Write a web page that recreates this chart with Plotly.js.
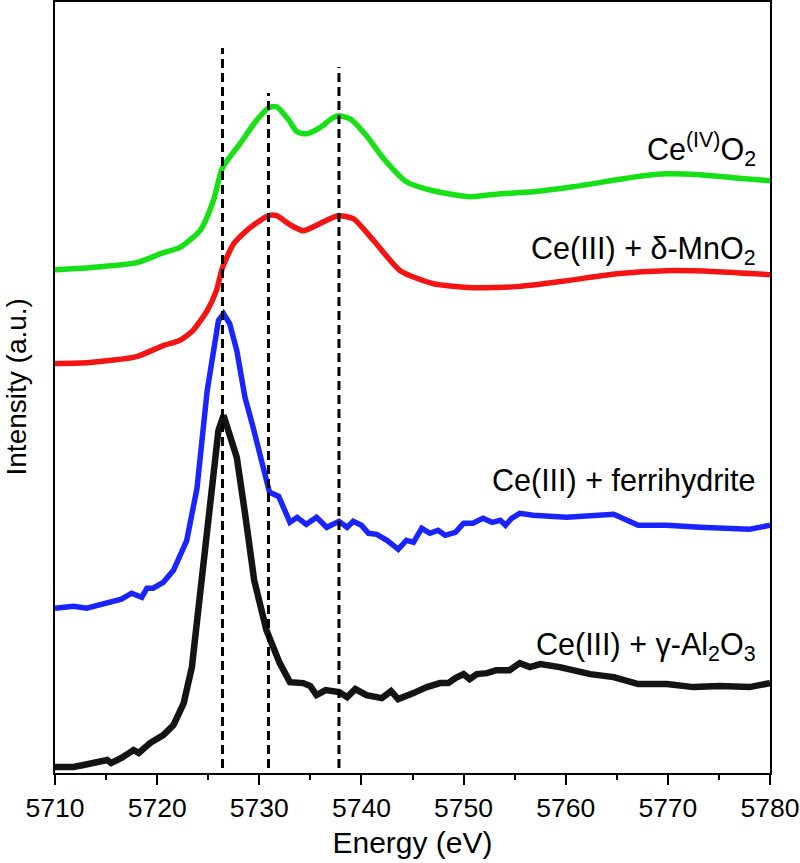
<!DOCTYPE html>
<html>
<head>
<meta charset="utf-8">
<script src="https://cdn.plot.ly/plotly-3.0.1.min.js"></script>
<style>
  html, body { margin: 0; padding: 0; background: #fff; }
  #chart { width: 800px; height: 863px; }
</style>
</head>
<body>
<div id="chart"></div>
<script>
// Ce L3-edge XANES spectra, stacked (arbitrary units)

const energyCeO2 = [5710, 5713.4, 5718, 5720.6, 5722.2, 5724.2, 5725.5, 5726.4, 5728.1, 5729.7, 5730.9, 5731.7, 5732.8, 5733.7, 5734.6, 5735.9, 5737.2, 5737.8, 5738.9, 5740.5, 5742.1, 5744.4, 5747.0, 5750.6, 5753.6, 5756.8, 5760.7, 5765.0, 5767.6, 5769.9, 5773.1, 5776.4, 5780];
const intensityCeO2 = [5.04, 5.06, 5.11, 5.21, 5.26, 5.43, 5.73, 6.06, 6.30, 6.53, 6.66, 6.67, 6.55, 6.42, 6.40, 6.46, 6.56, 6.58, 6.55, 6.38, 6.16, 5.92, 5.83, 5.77, 5.80, 5.82, 5.87, 5.94, 5.98, 6.00, 5.99, 5.96, 5.93];

const energyMnO2 = [5710, 5713.4, 5718, 5720.6, 5722.2, 5723.5, 5724.9, 5725.8, 5726.4, 5727.5, 5729.1, 5730.9, 5731.7, 5733.0, 5734.3, 5735.9, 5737.7, 5739.2, 5741.2, 5743.8, 5747.0, 5750.9, 5755.2, 5760.1, 5765.0, 5769.9, 5774.8, 5780];
const intensityMnO2 = [4.10, 4.11, 4.17, 4.28, 4.33, 4.43, 4.63, 4.83, 5.06, 5.30, 5.46, 5.58, 5.58, 5.49, 5.43, 5.50, 5.58, 5.55, 5.33, 5.03, 4.90, 4.86, 4.87, 4.93, 5.00, 5.03, 5.02, 4.99];

const energyFerri = [5710, 5711.8, 5713.1, 5715.1, 5716.5, 5717.5, 5718.5, 5719.0, 5719.6, 5720.6, 5721.6, 5722.9, 5723.9, 5724.9, 5725.5, 5726.0, 5726.5, 5727.1, 5727.8, 5728.6, 5729.4, 5730.2, 5731.0, 5731.9, 5733.0, 5733.7, 5734.6, 5735.6, 5736.6, 5737.8, 5738.6, 5739.2, 5740.0, 5740.7, 5741.5, 5742.5, 5743.6, 5744.4, 5745.1, 5745.9, 5746.7, 5747.5, 5748.2, 5749.2, 5750.0, 5750.9, 5751.9, 5752.8, 5753.6, 5754.1, 5754.7, 5755.5, 5756.8, 5760.1, 5764.7, 5767.1, 5769.9, 5773.1, 5778.0, 5780];
const intensityFerri = [1.65, 1.67, 1.65, 1.71, 1.74, 1.80, 1.76, 1.85, 1.85, 1.91, 2.03, 2.33, 2.85, 3.83, 4.26, 4.53, 4.60, 4.50, 4.23, 3.76, 3.46, 3.16, 2.81, 2.77, 2.51, 2.56, 2.49, 2.56, 2.46, 2.52, 2.46, 2.52, 2.48, 2.40, 2.39, 2.33, 2.24, 2.33, 2.31, 2.45, 2.40, 2.43, 2.38, 2.41, 2.50, 2.50, 2.55, 2.51, 2.53, 2.48, 2.55, 2.60, 2.58, 2.56, 2.59, 2.48, 2.48, 2.46, 2.44, 2.48];

const energyAl2O3 = [5710, 5711.8, 5712.8, 5713.7, 5714.4, 5715.1, 5715.5, 5716.5, 5717.7, 5718.2, 5719.3, 5720.6, 5721.6, 5722.6, 5723.4, 5724.0, 5724.6, 5725.2, 5726.0, 5726.5, 5727.1, 5727.8, 5728.6, 5729.5, 5730.7, 5732.0, 5733.0, 5734.3, 5735.0, 5735.6, 5736.5, 5737.8, 5738.6, 5739.4, 5740.5, 5741.3, 5742.0, 5742.9, 5743.6, 5745.1, 5746.4, 5747.7, 5748.5, 5749.2, 5750.0, 5750.6, 5751.3, 5752.3, 5753.2, 5754.5, 5755.5, 5756.5, 5757.5, 5759.4, 5762.4, 5764.7, 5767.1, 5769.9, 5772.5, 5775.1, 5778.0, 5780];
const intensityAl2O3 = [0.06, 0.06, 0.08, 0.10, 0.11, 0.13, 0.10, 0.15, 0.23, 0.20, 0.30, 0.38, 0.48, 0.70, 1.06, 1.63, 2.15, 2.76, 3.43, 3.58, 3.40, 3.16, 2.60, 1.93, 1.43, 1.10, 0.91, 0.90, 0.87, 0.78, 0.83, 0.81, 0.76, 0.84, 0.78, 0.76, 0.75, 0.82, 0.74, 0.80, 0.86, 0.90, 0.90, 0.95, 0.99, 0.94, 0.99, 1.00, 1.03, 1.03, 1.10, 1.06, 1.09, 1.06, 0.99, 0.96, 0.89, 0.89, 0.86, 0.87, 0.86, 0.90];

// reference energies marked with vertical dashed guides
const guideEnergies = [5726.4, 5730.9, 5737.8];
const guideTops = [7.26, 6.81, 7.07];
const guideBottom = 0.05;

const seriesLabels = ['Ce<sup>(IV)</sup>O<sub>2</sub>', 'Ce(III) + δ-MnO<sub>2</sub>', 'Ce(III) + ferrihydrite', 'Ce(III) + γ-Al<sub>2</sub>O<sub>3</sub>'];
const labelLevels = [6.24, 5.23, 2.93, 1.27];

const FONT = 'Arial, "Liberation Sans", Helvetica, sans-serif';

const traces = [
  { x: energyAl2O3, y: intensityAl2O3, mode: 'lines', line: { color: '#141414', width: 6.5 } },
  { x: energyFerri, y: intensityFerri, mode: 'lines', line: { color: '#1a24ff', width: 5.5 } },
  { x: energyMnO2, y: intensityMnO2, mode: 'lines', line: { color: '#f51414', width: 5.5, shape: 'spline', smoothing: 0.6 } },
  { x: energyCeO2, y: intensityCeO2, mode: 'lines', line: { color: '#17e017', width: 5.5, shape: 'spline', smoothing: 0.6 } }
];

guideEnergies.forEach((e, i) => {
  traces.push({
    x: [e, e], y: [guideBottom, guideTops[i]], mode: 'lines',
    line: { color: '#000', width: 3, dash: '9px,5px' }
  });
});

const annotations = seriesLabels.map((t, i) => ({
  text: t, x: 5778.8, y: labelLevels[i], xref: 'x', yref: 'y',
  xanchor: 'right', yanchor: 'middle', showarrow: false,
  font: { family: FONT, size: 30.5, color: '#000' }
}));

annotations.push({
  text: 'Intensity (a.u.)', textangle: -90, xref: 'paper', yref: 'paper',
  x: 0, y: 0.5, xanchor: 'center', yanchor: 'middle', xshift: -39,
  showarrow: false, font: { family: FONT, size: 28, color: '#000' }
});

const layout = {
  width: 800, height: 863,
  margin: { l: 55, r: 30, t: 2, b: 90 },
  paper_bgcolor: '#fff', plot_bgcolor: '#fff',
  showlegend: false,
  font: { family: FONT, color: '#000' },
  xaxis: {
    range: [5710, 5780], dtick: 10, tick0: 5710,
    ticks: 'outside', ticklen: 10, tickwidth: 2, tickcolor: '#000',
    minor: { dtick: 5, ticks: 'outside', ticklen: 5, tickwidth: 2, tickcolor: '#000' },
    ticklabeloverflow: 'allow',
    showline: true, linecolor: '#000', linewidth: 2, mirror: true,
    showgrid: false, zeroline: false,
    tickfont: { family: FONT, size: 26.5, color: '#000' },
    title: { text: 'Energy (eV)', font: { family: FONT, size: 30, color: '#000' }, standoff: 10 }
  },
  yaxis: {
    range: [0, 7.72], showticklabels: false, ticks: '',
    showline: true, linecolor: '#000', linewidth: 2, mirror: true,
    showgrid: false, zeroline: false
  },
  annotations: annotations
};

Plotly.newPlot('chart', traces, layout, { staticPlot: true, displayModeBar: false });
</script>
</body>
</html>
